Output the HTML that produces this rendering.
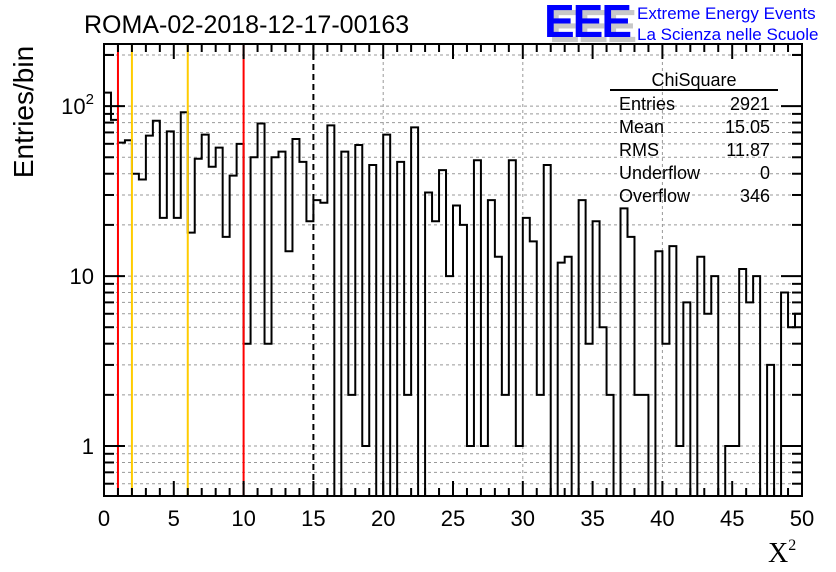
<!DOCTYPE html>
<html><head><meta charset="utf-8"><style>
body{margin:0;background:#fff;width:836px;height:572px;overflow:hidden}
svg{display:block;font-family:"Liberation Sans",sans-serif}
</style></head><body>
<svg id="c" width="836" height="572">
<text x="84" y="33" font-size="25">ROMA-02-2018-12-17-00163</text>
<g>
<text x="549" y="42" font-size="46" font-weight="bold" fill="#c8c8c8" letter-spacing="-2">EEE</text>
<text x="544" y="37" font-size="46" font-weight="bold" fill="#0000ff" letter-spacing="-2">EEE</text>
<text x="637" y="19" font-size="17" fill="#0000ff">Extreme Energy Events</text>
<text x="637" y="40" font-size="17" fill="#0000ff">La Scienza nelle Scuole</text>
</g>
<text transform="translate(33,112) rotate(-90)" text-anchor="middle" font-size="28">Entries/bin</text>
<text x="768" y="562" font-size="28" font-family="Liberation Serif,serif">X<tspan font-size="16" dy="-12">2</tspan></text>
<g id="grid"></g><g id="hist"></g><g id="cuts"></g><g id="axes"></g>
<g font-size="18">
<text x="694" y="86" text-anchor="middle">ChiSquare</text>
<line x1="610" y1="90" x2="778" y2="90" stroke="#000" stroke-width="2"/>
<text x="619" y="110">Entries</text><text x="770" y="110" text-anchor="end">2921</text>
<text x="619" y="133">Mean</text><text x="770" y="133" text-anchor="end">15.05</text>
<text x="619" y="156">RMS</text><text x="770" y="156" text-anchor="end">11.87</text>
<text x="619" y="179">Underflow</text><text x="770" y="179" text-anchor="end">0</text>
<text x="619" y="202">Overflow</text><text x="770" y="202" text-anchor="end">346</text>
</g>
</svg>
<script>
const binLow = 0, binWidth = 0.5;
const counts = [120,83,61,63,40,37,67,82,22,71,22,92,18,49,68,44,57,17,39,60,
4,50,79,4,50,54,14,64,47,21,28,27,77,0,54,2,59,1,45,0,
68,0,47,2,75,0,31,21,42,10,26,20,1,48,1,28,13,2,48,1,
22,16,2,45,0,12,13,0,28,4,21,5,2,0,25,17,2,2,0,14,
4,15,1,7,0,13,6,10,0,1,1,11,7,10,0,3,0,8,5,6];
const xTicks = [0,5,10,15,20,25,30,35,40,45,50];
const yTickVals = [1,10,100];
const yTickLabels = ["1","10","10²"];
const cutRed = [1,10];
const cutYellow = [2,6];
const cutDashed = [15];
const NS="http://www.w3.org/2000/svg";
const L=104,R=802,T=44,B=496,xmin=0,xmax=50,ymin=0.508,ymax=232;
const X=v=>L+(v-xmin)/(xmax-xmin)*(R-L);
const Y=v=>B-(Math.log10(v)-Math.log10(ymin))/(Math.log10(ymax)-Math.log10(ymin))*(B-T);
function mk(tag,attrs,parent){const e=document.createElementNS(NS,tag);for(const k in attrs)e.setAttribute(k,attrs[k]);parent.appendChild(e);return e;}
const grid=document.getElementById('grid'),axes=document.getElementById('axes'),hist=document.getElementById('hist'),cuts=document.getElementById('cuts');
[10,20,30,40].forEach(v=>{const g=mk('line',{x1:X(v),x2:X(v),y1:T,y2:B,stroke:'#999','stroke-dasharray':'3,3','stroke-width':1},grid);

});
const ylines=[];for(let d=1;d<=100;d*=10)for(let m=1;m<10;m++){const v=m*d;if(v>=ymin&&v<=ymax)ylines.push(v);}
[0.6,0.7,0.8,0.9].forEach(v=>ylines.push(v));ylines.push(200);
ylines.forEach(v=>{if(v<ymin||v>ymax)return;const g=mk('line',{x1:L,x2:R,y1:Y(v),y2:Y(v),stroke:'#999','stroke-dasharray':'3,3','stroke-width':1},grid);


const major=[1,10,100].includes(v),len=major?21:10;
mk('line',{x1:L,x2:L+len,y1:Y(v),y2:Y(v),stroke:'#000','stroke-width':2},axes);
mk('line',{x1:R,x2:R-len,y1:Y(v),y2:Y(v),stroke:'#000','stroke-width':2},axes);});
let d='';const clampY=v=>v<=0?B:Y(v);
counts.forEach((c,i)=>{const x0=X(binLow+i*binWidth),x1=X(binLow+(i+1)*binWidth),y=clampY(c);
d+=(i===0?`M${x0},${y}`:`L${x0},${y}`)+`L${x1},${y}`;});
d+=`L${X(binLow+counts.length*binWidth)},${B}`;
const p=mk('path',{d:d,fill:'none',stroke:'#000','stroke-width':2},hist);


function cut(v,col,dash,name){const e=mk('line',{x1:X(v),x2:X(v),y1:T,y2:B,stroke:col,'stroke-width':2},cuts);if(dash)e.setAttribute('stroke-dasharray',dash);

}
cutRed.forEach(v=>cut(v,'#ff0000',null,'red-cut-line'));
cutYellow.forEach(v=>cut(v,'#ffcc00',null,'yellow-cut-line'));
cutDashed.forEach(v=>cut(v,'#000','6,4','dashed-cut-line'));
for(let v=0;v<=50;v++){const len=v%5===0?15:8;
mk('line',{x1:X(v),x2:X(v),y1:B,y2:B-len,stroke:'#000','stroke-width':2},axes);
mk('line',{x1:X(v),x2:X(v),y1:T,y2:T+len,stroke:'#000','stroke-width':2},axes);}
xTicks.forEach(v=>{const t=mk('text',{x:X(v),y:526,'text-anchor':'middle','font-size':22},axes);t.textContent=v;

});
yTickVals.forEach((v,i)=>{const t=mk('text',{x:94,y:Y(v)+8,'text-anchor':'end','font-size':22},axes);
if(v===100){t.textContent='10';const s=mk('tspan',{'font-size':15,dy:-10},t);s.textContent='2';}else t.textContent=yTickLabels[i];

});
const fr=mk('rect',{x:L,y:T,width:R-L,height:B-T,fill:'none',stroke:'#000','stroke-width':2},axes);


</script>
</body></html>
